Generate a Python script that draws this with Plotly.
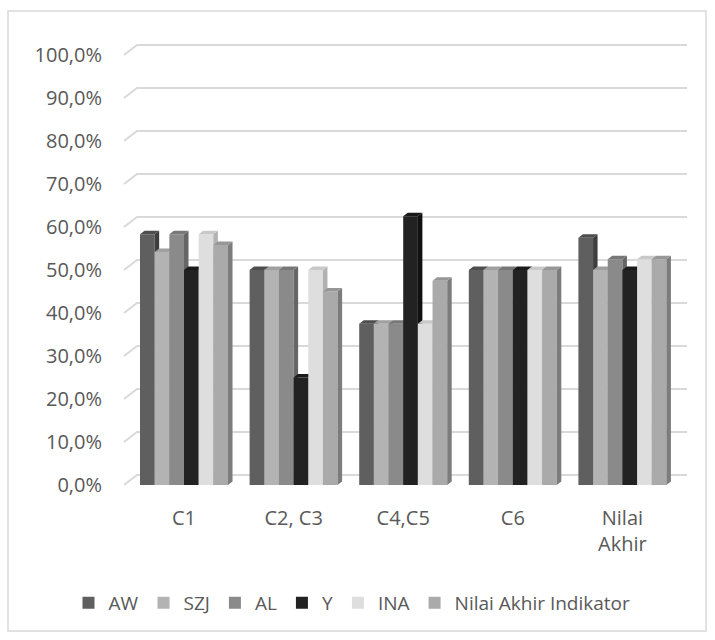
import plotly.graph_objects as go

# Categories and series (percent)
categories = ["C1", "C2, C3", "C4,C5", "C6", "Nilai<br>Akhir"]
series_names = ["AW", "SZJ", "AL", "Y", "INA", "Nilai Akhir Indikator"]
aw = [58.3, 50.0, 37.5, 50.0, 57.5]
szj = [54.2, 50.0, 37.5, 50.0, 50.0]
al = [58.3, 50.0, 37.5, 50.0, 52.5]
y_vals = [50.0, 25.0, 62.5, 50.0, 50.0]
ina = [58.3, 50.0, 37.5, 50.0, 52.5]
nai = [55.8, 45.0, 47.5, 50.0, 52.5]
series_values = [aw, szj, al, y_vals, ina, nai]
y_ticks = [0, 10, 20, 30, 40, 50, 60, 70, 80, 90, 100]
y_tick_text = [f"{t:.1f}".replace(".", ",") + "%" for t in y_ticks]

# Face colours: front, top, side
front_colors = ["#5f5f5f", "#b3b3b3", "#8a8a8a", "#222222", "#dedede", "#aaaaaa"]
top_colors = ["#4e4e4e", "#a0a0a0", "#787878", "#1a1a1a", "#c9c9c9", "#979797"]
side_colors = ["#3e3e3e", "#8c8c8c", "#666666", "#111111", "#b2b2b2", "#7c7c7c"]

# Geometry (x in category units, y in percent)
PX_X = 109.6          # pixels per category unit
PX_Y = 4.3            # pixels per percent
bar_w = 14.67 / PX_X
group_left = -44.0 / PX_X
depth_dx = 4.5 / PX_X
depth_dy = 3.5 / PX_Y
wall_dx = 13.0 / PX_X
wall_dy = 10.0 / PX_Y
grid_x0 = (124 - 184) / PX_X
grid_x1 = (687 - 184) / PX_X

plot_left, plot_right, plot_top, plot_bottom = 106, 700, 20, 500
x_range = [(plot_left - 184) / PX_X, (plot_right - 184) / PX_X]
y_range = [(485 - plot_bottom) / PX_Y, (485 - plot_top) / PX_Y]

fig = go.Figure()

for k, (name, vals) in enumerate(zip(series_names, series_values)):
    yref = "y" if k == 0 else f"y{k + 1}"
    off = group_left + k * bar_w
    fig.add_trace(go.Bar(
        x=list(range(len(categories))), y=vals, name=name,
        offset=off, width=bar_w, yaxis=yref,
        marker=dict(color=front_colors[k], line=dict(width=0)),
        showlegend=True,
    ))
    tx, ty, sx, sy = [], [], [], []
    for i, v in enumerate(vals):
        xl = i + off
        xr = xl + bar_w
        tx += [xl, xr, xr + depth_dx, xl + depth_dx, xl, None]
        ty += [v, v, v + depth_dy, v + depth_dy, v, None]
        sx += [xr, xr, xr + depth_dx, xr + depth_dx, xr, None]
        sy += [0, v, v + depth_dy, depth_dy, 0, None]
    fig.add_trace(go.Scatter(
        x=sx, y=sy, mode="lines", fill="toself", fillcolor=side_colors[k],
        line=dict(width=0, color=side_colors[k]), yaxis=yref,
        showlegend=False, hoverinfo="skip",
    ))
    fig.add_trace(go.Scatter(
        x=tx, y=ty, mode="lines", fill="toself", fillcolor=top_colors[k],
        line=dict(width=0, color=top_colors[k]), yaxis=yref,
        showlegend=False, hoverinfo="skip",
    ))

# Back-wall gridlines with the slanted side-wall segment
for t in y_ticks:
    fig.add_shape(
        type="path", xref="x", yref="y", layer="below",
        path=f"M {grid_x0},{t} L {grid_x0 + wall_dx},{t + wall_dy} L {grid_x1},{t + wall_dy}",
        line=dict(color="#d9d9d9", width=2),
    )

# Chart frame
fig.add_shape(
    type="rect", xref="paper", yref="paper",
    x0=(8 - plot_left) / (plot_right - plot_left),
    x1=(706 - plot_left) / (plot_right - plot_left),
    y0=(plot_bottom - 631) / (plot_bottom - plot_top),
    y1=(plot_bottom - 11) / (plot_bottom - plot_top),
    line=dict(color="#d9d9d9", width=1.5),
)

font_color = "#595959"
layout_axes = {}
for k in range(1, len(series_names)):
    layout_axes[f"yaxis{k + 1}"] = dict(
        overlaying="y", range=y_range, visible=False, showgrid=False,
        zeroline=False, fixedrange=True,
    )

fig.update_layout(
    width=715, height=640,
    margin=dict(l=plot_left, r=715 - plot_right, t=plot_top, b=640 - plot_bottom),
    paper_bgcolor="white", plot_bgcolor="white",
    font=dict(family="Open Sans", size=19, color=font_color),
    xaxis=dict(
        range=x_range, tickvals=list(range(len(categories))), ticktext=categories,
        showgrid=False, zeroline=False, showline=False, ticks="",
        tickfont=dict(size=20, color=font_color), fixedrange=True,
        ticklabelstandoff=4,
    ),
    yaxis=dict(
        range=y_range, tickvals=y_ticks, ticktext=y_tick_text,
        showgrid=False, zeroline=False, showline=False, ticks="",
        tickfont=dict(size=20, color=font_color), fixedrange=True,
        ticklabelstandoff=3,
    ),
    legend=dict(
        orientation="h", x=(352 - plot_left) / (plot_right - plot_left), xanchor="center",
        y=(plot_bottom - 603) / (plot_bottom - plot_top),
        yanchor="middle", font=dict(size=19, color=font_color), itemwidth=30,
        traceorder="normal",
    ),
    showlegend=True,
    **layout_axes,
)

fig.write_html("out.html")
